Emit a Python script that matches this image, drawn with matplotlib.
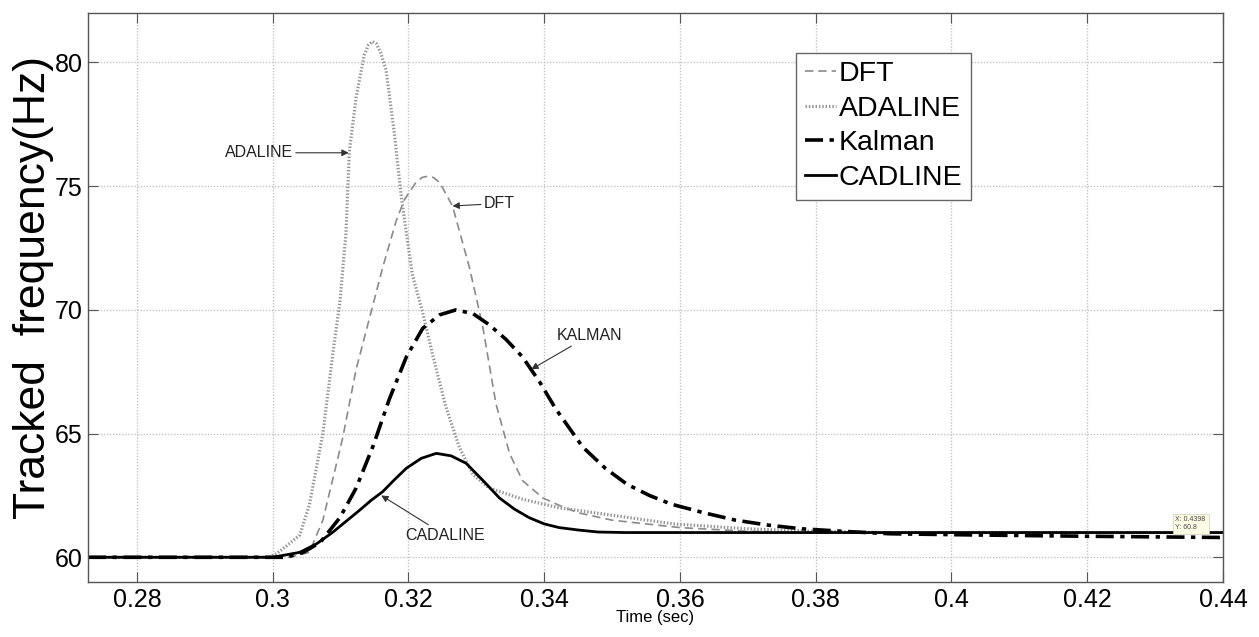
import matplotlib
matplotlib.use("Agg")
import matplotlib.pyplot as plt

plt.rcParams['font.family'] = ['Liberation Sans', 'DejaVu Sans']

# values
t_adaline = [0.2728, 0.2995, 0.3006, 0.3020, 0.3040, 0.3054, 0.3074, 0.3089, 0.3099, 0.3108, 0.3113,
             0.3123, 0.3135, 0.3141, 0.3147, 0.3153, 0.3159, 0.3167, 0.3179, 0.3189, 0.3197, 0.3206,
             0.3221, 0.3236, 0.3255, 0.3275, 0.3295, 0.3319, 0.3368, 0.3422, 0.3500, 0.3590, 0.3700,
             0.3800, 0.3900, 0.4400]
f_adaline = [60.0, 60.0, 60.15, 60.45, 60.9, 62.1, 65.0, 68.3, 70.3, 73.1, 76.4,
             78.6, 80.3, 80.7, 80.85, 80.75, 80.4, 79.7, 77.2, 74.7, 73.1, 71.4,
             69.9, 68.15, 66.1, 64.45, 63.35, 62.8, 62.35, 62.0, 61.7, 61.35, 61.15,
             61.05, 61.0, 61.0]

t_dft = [0.2728, 0.3025, 0.3054, 0.3074, 0.3103, 0.3123, 0.3143, 0.3162, 0.3182, 0.3194, 0.3211,
         0.3220, 0.3228, 0.3237, 0.3246, 0.3265, 0.3290, 0.3309, 0.3329, 0.3349, 0.3368, 0.3398,
         0.3422, 0.3450, 0.3500, 0.3600, 0.3700, 0.3800, 0.4400]
f_dft = [60.0, 60.0, 60.2, 61.5, 64.8, 67.6, 69.7, 71.7, 73.6, 74.45, 75.15,
         75.35, 75.4, 75.35, 75.15, 74.2, 71.7, 69.4, 66.2, 64.2, 63.1, 62.4,
         62.1, 61.8, 61.5, 61.2, 61.05, 61.0, 61.0]

t_kalman = [0.2728, 0.3020, 0.3045, 0.3070, 0.3099, 0.3123, 0.3148, 0.3172, 0.3197, 0.3221, 0.3246,
            0.3270, 0.3295, 0.3319, 0.3344, 0.3368, 0.3393, 0.3417, 0.3457, 0.3490, 0.3522, 0.3555,
            0.3587, 0.3635, 0.3682, 0.3730, 0.3780, 0.3840, 0.3910, 0.4040, 0.4200, 0.4400]
f_kalman = [60.0, 60.0, 60.2, 60.6, 61.6, 62.8, 64.5, 66.4, 68.1, 69.25, 69.8,
            70.0, 69.85, 69.4, 68.8, 68.1, 67.1, 66.0, 64.45, 63.6, 62.95, 62.5,
            62.15, 61.8, 61.5, 61.3, 61.15, 61.05, 60.95, 60.9, 60.85, 60.8]

t_cadline = [0.2728, 0.3000, 0.3040, 0.3065, 0.3088, 0.3108, 0.3128, 0.3145, 0.3162, 0.3180, 0.3197,
             0.3219, 0.3241, 0.3263, 0.3285, 0.3310, 0.3334, 0.3356, 0.3378, 0.3400, 0.3422, 0.3451,
             0.3480, 0.3520, 0.4400]
f_cadline = [60.0, 60.0, 60.2, 60.55, 61.0, 61.45, 61.9, 62.3, 62.65, 63.15, 63.6,
             64.0, 64.2, 64.1, 63.8, 63.1, 62.4, 61.95, 61.6, 61.35, 61.2, 61.1,
             61.02, 61.0, 61.0]

x_ticks = [0.28, 0.30, 0.32, 0.34, 0.36, 0.38, 0.40, 0.42, 0.44]
x_labels = ['0.28', '0.3', '0.32', '0.34', '0.36', '0.38', '0.4', '0.42', '0.44']
y_ticks = [60, 65, 70, 75, 80]

fig = plt.figure(figsize=(12.59, 6.37), dpi=100)
ax = fig.add_axes([0.0699, 0.0863, 0.9015, 0.8933])

ax.plot(t_dft, f_dft, color='#8a8a8a', lw=1.2, ls=(0, (5, 3)), label='DFT')
ax.plot(t_adaline, f_adaline, color='#959595', lw=2.3, ls=(0, (0.45, 0.6)), label='ADALINE')
ax.plot(t_kalman, f_kalman, color='black', lw=2.6, ls=(0, (5, 1.8, 1.2, 1.8)), label='Kalman')
ax.plot(t_cadline, f_cadline, color='black', lw=2.0, ls='-', label='CADLINE')

ax.set_xlim(0.2728, 0.44)
ax.set_ylim(59, 82)
ax.set_xticks(x_ticks)
ax.set_xticklabels(x_labels)
ax.set_yticks(y_ticks)
ax.tick_params(direction='in', length=7, width=0.8, color='#555555', labelsize=18,
               top=True, right=True, pad=4)
ax.grid(True, color='#c4c4c4', ls=(0, (1, 1.2)), lw=1.0)
for s in ax.spines.values():
    s.set_color('#555555')
    s.set_linewidth(1.0)

ax.set_ylabel('Tracked  frequency(Hz)', fontsize=32)
ax.yaxis.set_label_coords(-0.030, 0.518)
ax.set_xlabel('Time (sec)', fontsize=12, labelpad=-1)

leg = ax.legend(loc='upper left', bbox_to_anchor=(0.624, 0.930), borderaxespad=0,
                fontsize=20.5, handlelength=1.1, handletextpad=0.1, labelspacing=0.3,
                borderpad=0.3, fancybox=False, framealpha=1, edgecolor='#666666')
leg.get_frame().set_linewidth(1.0)

arrow = dict(arrowstyle='-|>', color='#333333', lw=0.8, mutation_scale=10, shrinkA=0, shrinkB=0)
ax.annotate('ADALINE', xy=(0.3112, 76.35), xytext=(0.3108 - 0.0078, 76.35), fontsize=11.5,
            color='#222222', ha='right', va='center', arrowprops=arrow)
ax.annotate('DFT', xy=(0.3265, 74.2), xytext=(0.3311, 74.3), fontsize=11.5,
            color='#222222', ha='left', va='center', arrowprops=arrow)
ax.annotate('KALMAN', xy=(0.3381, 67.6), xytext=(0.3418, 68.95), fontsize=11.5,
            color='#222222', ha='left', va='center', arrowprops=arrow)
ax.annotate('CADALINE', xy=(0.3160, 62.5), xytext=(0.3195, 60.9), fontsize=11.5,
            color='#222222', ha='left', va='center', arrowprops=arrow)

ax.text(0.4330, 61.35, 'X: 0.4398\nY: 60.8', fontsize=5, color='#444444', va='center', ha='left',
        bbox=dict(boxstyle='square,pad=0.4', facecolor='#fdfde6', edgecolor='#d0d0c0', lw=0.5))

fig.savefig('out.png', dpi=100)
